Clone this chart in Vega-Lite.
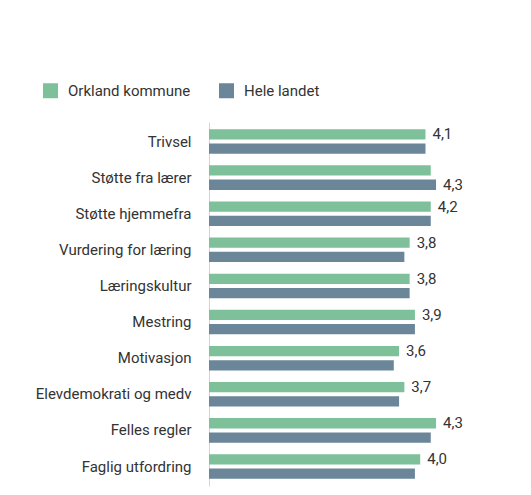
{
  "$schema": "https://vega.github.io/schema/vega-lite/v6.json",
  "autosize": {"type": "none"},
  "width": 264,
  "height": 364,
  "padding": {"left": 209, "top": 122, "right": 58, "bottom": 9},
  "background": "white",
  "config": {
    "view": {"stroke": null},
    "font": "Roboto",
    "text": {"font": "Roboto"}
  },
  "data": {
    "values": [
      {"kategori": "Trivsel", "serie": "Orkland kommune", "verdi": 4.1, "etikett": "4,1"},
      {"kategori": "Trivsel", "serie": "Hele landet", "verdi": 4.1, "etikett": ""},
      {"kategori": "Støtte fra lærer", "serie": "Orkland kommune", "verdi": 4.2, "etikett": ""},
      {"kategori": "Støtte fra lærer", "serie": "Hele landet", "verdi": 4.3, "etikett": "4,3"},
      {"kategori": "Støtte hjemmefra", "serie": "Orkland kommune", "verdi": 4.2, "etikett": "4,2"},
      {"kategori": "Støtte hjemmefra", "serie": "Hele landet", "verdi": 4.2, "etikett": ""},
      {"kategori": "Vurdering for læring", "serie": "Orkland kommune", "verdi": 3.8, "etikett": "3,8"},
      {"kategori": "Vurdering for læring", "serie": "Hele landet", "verdi": 3.7, "etikett": ""},
      {"kategori": "Læringskultur", "serie": "Orkland kommune", "verdi": 3.8, "etikett": "3,8"},
      {"kategori": "Læringskultur", "serie": "Hele landet", "verdi": 3.8, "etikett": ""},
      {"kategori": "Mestring", "serie": "Orkland kommune", "verdi": 3.9, "etikett": "3,9"},
      {"kategori": "Mestring", "serie": "Hele landet", "verdi": 3.9, "etikett": ""},
      {"kategori": "Motivasjon", "serie": "Orkland kommune", "verdi": 3.6, "etikett": "3,6"},
      {"kategori": "Motivasjon", "serie": "Hele landet", "verdi": 3.5, "etikett": ""},
      {"kategori": "Elevdemokrati og medv", "serie": "Orkland kommune", "verdi": 3.7, "etikett": "3,7"},
      {"kategori": "Elevdemokrati og medv", "serie": "Hele landet", "verdi": 3.6, "etikett": ""},
      {"kategori": "Felles regler", "serie": "Orkland kommune", "verdi": 4.3, "etikett": "4,3"},
      {"kategori": "Felles regler", "serie": "Hele landet", "verdi": 4.2, "etikett": ""},
      {"kategori": "Faglig utfordring", "serie": "Orkland kommune", "verdi": 4.0, "etikett": "4,0"},
      {"kategori": "Faglig utfordring", "serie": "Hele landet", "verdi": 3.9, "etikett": ""}
    ]
  },
  "encoding": {
    "y": {
      "field": "kategori",
      "type": "nominal",
      "sort": null,
      "scale": {"paddingInner": 0.32, "paddingOuter": 0.2},
      "axis": {
        "title": null,
        "ticks": false,
        "grid": false,
        "domainColor": "#ccd6eb",
        "domainWidth": 1,
        "labelFont": "Roboto",
        "labelFontSize": 15,
        "labelColor": "#333333",
        "labelPadding": 18,
        "labelLimit": 250
      }
    },
    "yOffset": {
      "field": "serie",
      "type": "nominal",
      "sort": ["Orkland kommune", "Hele landet"],
      "scale": {"paddingInner": 0.28}
    },
    "x": {
      "field": "verdi",
      "type": "quantitative",
      "scale": {"domain": [0, 5], "nice": false, "zero": true},
      "axis": null
    }
  },
  "layer": [
    {
      "mark": {"type": "bar", "cornerRadius": 0},
      "encoding": {
        "color": {
          "field": "serie",
          "type": "nominal",
          "sort": ["Orkland kommune", "Hele landet"],
          "scale": {"domain": ["Orkland kommune", "Hele landet"], "range": ["#7dc09a", "#6b8599"]},
          "legend": {
            "title": null,
            "orient": "none",
            "direction": "horizontal",
            "legendX": -166,
            "legendY": -39,
            "padding": 0,
            "symbolType": "square",
            "symbolSize": 225,
            "symbolStrokeWidth": 0,
            "symbolOpacity": 1,
            "labelFont": "Roboto",
            "labelFontSize": 15,
            "labelColor": "#333333",
            "labelOffset": 10,
            "columnPadding": 28
          }
        }
      }
    },
    {
      "mark": {"type": "text", "align": "left", "baseline": "middle", "dx": 7, "fontSize": 15, "color": "#333333", "font": "Roboto"},
      "encoding": {
        "text": {"field": "etikett", "type": "nominal"}
      }
    }
  ]
}
